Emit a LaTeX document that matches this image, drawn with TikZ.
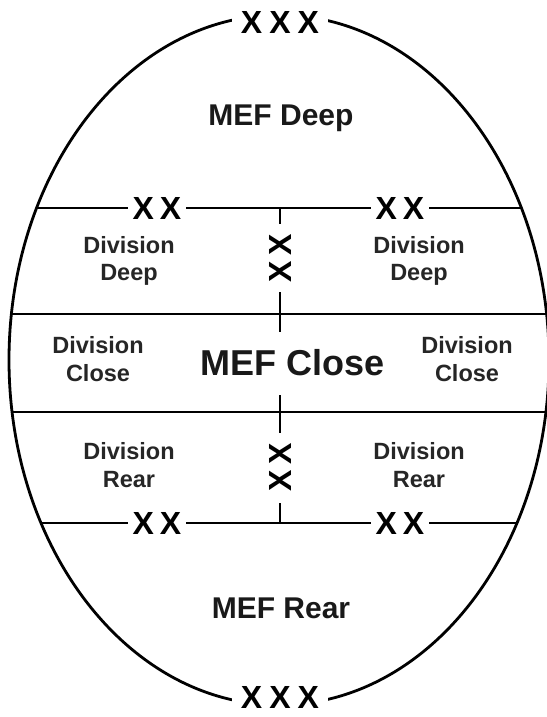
\documentclass[tikz,border=0pt]{standalone}
\usepackage{fontspec}
\setmainfont{Liberation Sans}
\begin{document}
\begin{tikzpicture}[x=1pt,y=-1pt,
  frame/.style={line width=2.8pt, draw=black},
  mef/.style={font=\bfseries\fontsize{30}{34}\selectfont, text=black!90},
  mefbig/.style={font=\bfseries\fontsize{36}{40}\selectfont, text=black!90},
  div/.style={font=\bfseries\fontsize{23.5}{27.5}\selectfont, align=center, text=black!85},
  xlab/.style={font=\bfseries\fontsize{32}{32}\selectfont, fill=white, inner xsep=5pt, inner ysep=0pt, text=black},
  vxlab/.style={font=\bfseries\fontsize{32}{32}\selectfont, inner sep=0pt, text=black, rotate=90},
]
\useasboundingbox (0,0) rectangle (546,717);
\coordinate (c) at (279,360);
\begin{scope}
  \clip (c) ellipse [x radius=270pt, y radius=345pt];
  \draw[frame] (0,208) -- (560,208);
  \draw[frame] (0,314) -- (560,314);
  \draw[frame] (0,412) -- (560,412);
  \draw[frame] (0,523) -- (560,523);
\end{scope}
\draw[frame] (c) ellipse [x radius=270pt, y radius=345pt];
% vertical divider
\draw[frame] (280,208) -- (280,224);
\draw[frame] (280,292) -- (280,332);
\draw[frame] (280,395) -- (280,433);
\draw[frame] (280,503) -- (280,523);
% echelon labels
\node[xlab, inner xsep=9pt] (xxxtop) at (280,22) {X\hspace{7pt}X\hspace{7pt}X};
\node[xlab, inner xsep=9pt] (xxxbot) at (280,697) {X\hspace{7pt}X\hspace{7pt}X};
\node[xlab] (xxtl) at (157,208) {X\hspace{6pt}X};
\node[xlab] (xxtr) at (400,208) {X\hspace{6pt}X};
\node[xlab] (xxbl) at (157,523) {X\hspace{6pt}X};
\node[xlab] (xxbr) at (400,523) {X\hspace{6pt}X};
\node[vxlab] (xxvt) at (280,258) {X\hspace{6pt}X};
\node[vxlab] (xxvb) at (280,467) {X\hspace{6pt}X};
% area labels
\node[mef] (mefdeep) at (281,118) {MEF Deep};
\node[mefbig] (mefclose) at (293,363) {MEF Close};
\node[mef] (mefrear) at (281,608) {MEF Rear};
\node[div] (ddl) at (129,261) {Division\\Deep};
\node[div] (ddr) at (419,261) {Division\\Deep};
\node[div] (dcl) at (98,359) {Division\\Close};
\node[div] (dcr) at (467,359) {Division\\Close};
\node[div] (drl) at (129,465) {Division\\Rear};
\node[div] (drr) at (419,465) {Division\\Rear};
\end{tikzpicture}
\end{document}
